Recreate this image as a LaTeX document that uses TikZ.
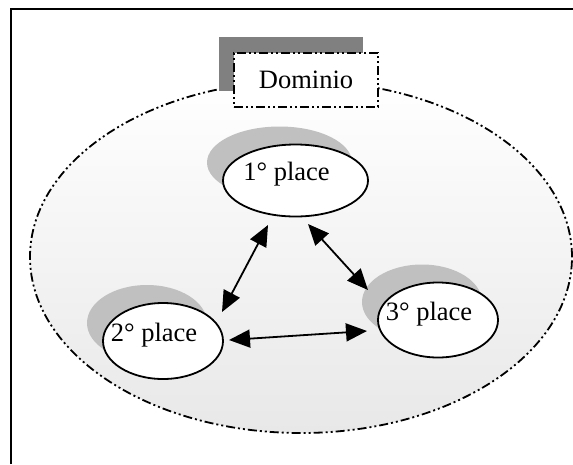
\documentclass[tikz,border=0pt]{standalone}
\usepackage{fontspec}
\setmainfont{Liberation Serif}
\usetikzlibrary{shapes.geometric,arrows.meta,shadows,calc}
\definecolor{domshadow}{RGB}{128,128,128}
\definecolor{placeshadow}{RGB}{192,192,192}
\definecolor{domfill}{RGB}{232,232,232}
\begin{document}
\begin{tikzpicture}[x=1pt,y=-1pt,
  dashdotdot/.style={dash pattern=on 9pt off 3pt on 2pt off 3pt on 2pt off 3pt},
  txt/.style={font=\fontsize{26.5}{30}\selectfont},
  place/.style={ellipse, draw, line width=1.8pt, fill=white, inner sep=0pt,
    drop shadow={shadow xshift=-16pt, shadow yshift=18pt, fill=placeshadow, opacity=1}},
  placetext/.style={label={[txt, xshift=-9pt, yshift=6pt]center:#1}},
  link/.style={line width=1.8pt,
    {Triangle[length=21pt,width=18pt]}-{Triangle[length=21pt,width=18pt]}},
]
\useasboundingbox (0,0) rectangle (573,464);

% page frame
\draw[line width=1.8pt] (11,464) -- (11,9) -- (573,9);

% the domain
\node[ellipse, draw, dashdotdot, line width=1.8pt, inner sep=0pt,
  minimum width=542pt, minimum height=352pt,
  top color=white, bottom color=domfill] (domain) at (301,257) {};

% domain title
\node[draw, dashdotdot, line width=1.6pt, fill=white, txt,
  minimum width=144pt, minimum height=54pt,
  drop shadow={shadow xshift=-15pt, shadow yshift=16pt, fill=domshadow, opacity=1}]
  (title) at (306,80) {Dominio};

% places
\node[place, minimum width=145pt, minimum height=72pt, placetext={1° place}] (p1) at (295.5,180.5) {};
\node[place, minimum width=120pt, minimum height=76pt, placetext={2° place}] (p2) at (163,341) {};
\node[place, minimum width=120pt, minimum height=75pt, placetext={3° place}] (p3) at (438,320) {};

% links between places
\draw[link] ($(p1)+(-27.5,44.5)$) -- ($(p2)+(59,-29)$);
\draw[link] ($(p1)+(12.5,43.5)$) -- ($(p3)+(-70,-30)$);
\draw[link] ($(p2)+(66,-1)$) -- ($(p3)+(-71,11)$);
\end{tikzpicture}
\end{document}
